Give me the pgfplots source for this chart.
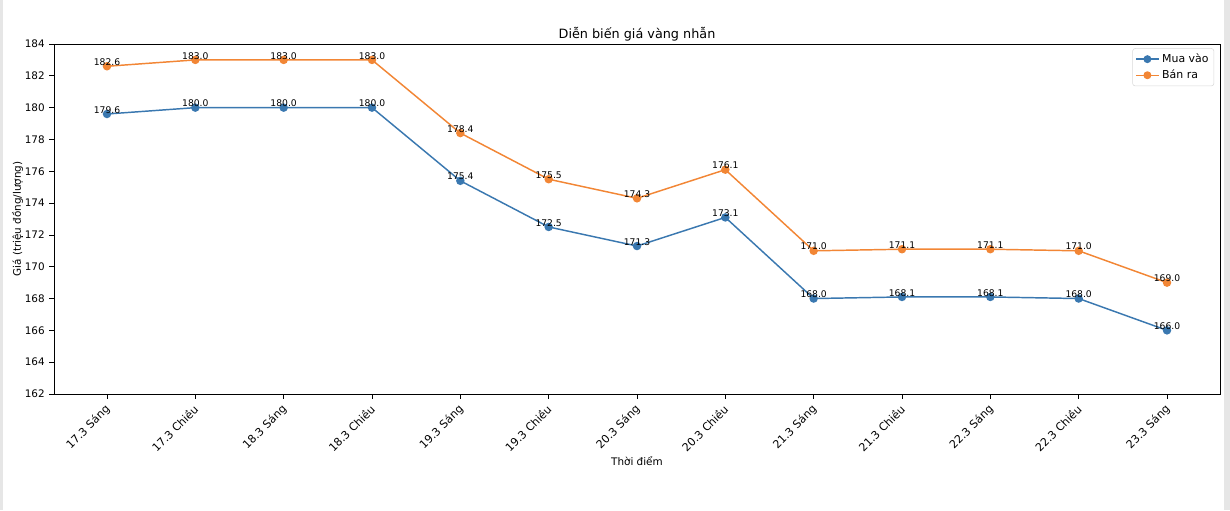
\documentclass[border=0pt]{standalone}
\usepackage{fontspec}
\setmainfont{DejaVu Sans}
\usepackage{pgfplots}
\pgfplotsset{compat=1.18}

\definecolor{tabblue}{HTML}{3A78B0}
\definecolor{taborange}{HTML}{F28635}
\definecolor{edgegray}{HTML}{E6E6E6}

\begin{document}
\begin{tikzpicture}
% picture frame: 1230 x 510 px at 0.75pt per px, axis box SW corner at origin
\useasboundingbox (-40.5pt,-87pt) rectangle (882pt,295.5pt);
\fill[edgegray] (-40.5pt,-87pt) rectangle (-38.25pt,295.5pt);
\fill[edgegray] (877.5pt,-87pt) rectangle (882pt,295.5pt);

\begin{axis}[
    scale only axis,
    width=874.5pt, height=262.5pt,
    xmin=-0.6, xmax=12.6,
    ymin=162, ymax=184,
    ytick={162,164,...,184},
    xtick={0,...,12},
    xticklabels={17.3 Sáng,17.3 Chiều,18.3 Sáng,18.3 Chiều,19.3 Sáng,19.3 Chiều,20.3 Sáng,20.3 Chiều,21.3 Sáng,21.3 Chiều,22.3 Sáng,22.3 Chiều,23.3 Sáng},
    xticklabel style={rotate=45, anchor=north east, inner sep=1pt, xshift=-3pt, font=\fontsize{8.3}{9}\selectfont},
    yticklabel style={font=\fontsize{7.8}{9}\selectfont},
    /pgf/number format/assume math mode=true,
    tick align=outside,
    major tick length=3.5pt,
    tick style={black, line width=0.6pt},
    axis line style={black, line width=0.6pt},
    xtick pos=bottom, ytick pos=left,
    title={Diễn biến giá vàng nhẫn},
    title style={font=\fontsize{9.6}{11}\selectfont, yshift=-7.5pt},
    xlabel={Thời điểm},
    xlabel style={font=\fontsize{7.8}{9}\selectfont, yshift=2.5pt},
    ylabel={Giá (triệu đồng/lượng)},
    ylabel style={font=\fontsize{7.8}{9}\selectfont, yshift=-5.5pt},
    legend cell align=left,
    legend style={font=\fontsize{8.2}{9}\selectfont, draw=black!15, rounded corners=2pt,
        at={(0.995,0.988)}, anchor=north east, inner sep=2pt, row sep=0pt},
    legend image code/.code={
        \draw[#1, line width=1.1pt] (0cm,0cm) -- (0.6cm,0cm);
        \fill[#1] (0.3cm,0cm) circle (2.4pt);
    },
    nodes near coords,
    nodes near coords style={font=\fontsize{6.9}{8}\selectfont, anchor=south, inner sep=0pt, yshift=0pt, text=black,
        /pgf/number format/.cd, fixed, fixed zerofill, precision=1},
]
\addplot[color=tabblue, line width=1.1pt, mark=*, mark size=2.6pt, mark options={fill=tabblue, draw=tabblue}]
  coordinates {
  (0,179.6)(1,180.0)(2,180.0)(3,180.0)(4,175.4)(5,172.5)(6,171.3)
  (7,173.1)(8,168.0)(9,168.1)(10,168.1)(11,168.0)(12,166.0)
  };
\addlegendentry{Mua vào}

\addplot[color=taborange, line width=1.1pt, mark=*, mark size=2.6pt, mark options={fill=taborange, draw=taborange}]
  coordinates {
  (0,182.6)(1,183.0)(2,183.0)(3,183.0)(4,178.4)(5,175.5)(6,174.3)
  (7,176.1)(8,171.0)(9,171.1)(10,171.1)(11,171.0)(12,169.0)
  };
\addlegendentry{Bán ra}
\end{axis}
\end{tikzpicture}
\end{document}
